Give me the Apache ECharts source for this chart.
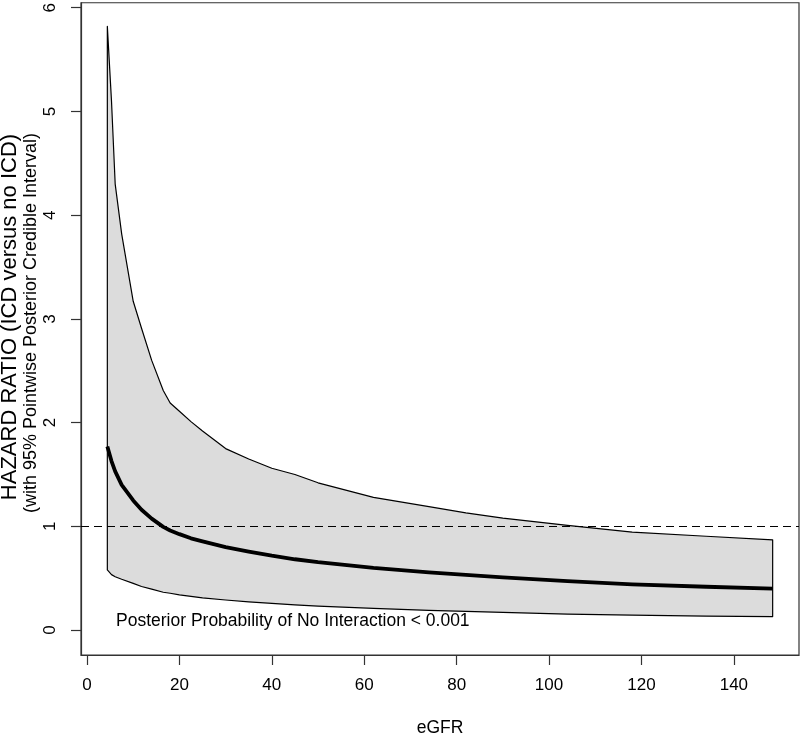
<!DOCTYPE html>
<html>
<head>
<meta charset="utf-8">
<script src="https://cdn.jsdelivr.net/npm/echarts@6/dist/echarts.min.js"></script>
<style>
html,body{margin:0;padding:0;background:#fff;}
#chart{width:800px;height:736px;}
</style>
</head>
<body>
<div id="chart"></div>
<script>
// eGFR positions where the curves were read
const eGFR  = [4.4, 5.3, 6.1, 7.5, 10, 11.8, 14, 16.5, 18, 20, 22.5, 25, 30, 35, 40, 45, 50, 62, 74, 82, 90, 104, 118, 134, 148.4];
// upper 95% pointwise credible bound
const upper = [5.82, 5.10, 4.30, 3.82, 3.17, 2.91, 2.60, 2.31, 2.19, 2.11, 2.01, 1.92, 1.75, 1.65, 1.56, 1.50, 1.42, 1.28, 1.19, 1.13, 1.08, 1.01, 0.945, 0.905, 0.87];
// posterior mean hazard ratio
const mean  = [1.77, 1.63, 1.53, 1.40, 1.25, 1.16, 1.075, 0.995, 0.96, 0.925, 0.885, 0.855, 0.80, 0.757, 0.717, 0.683, 0.655, 0.60, 0.557, 0.532, 0.508, 0.472, 0.441, 0.418, 0.40];
// lower 95% pointwise credible bound
const lower = [0.58, 0.535, 0.515, 0.49, 0.45, 0.42, 0.395, 0.365, 0.355, 0.34, 0.325, 0.31, 0.29, 0.272, 0.258, 0.243, 0.232, 0.21, 0.19, 0.18, 0.17, 0.155, 0.145, 0.135, 0.13];

const xTicks = [0, 20, 40, 60, 80, 100, 120, 140];
const yTicks = [0, 1, 2, 3, 4, 5, 6];
const refLine = 1;

const FONT = "'Liberation Sans', Arial, Helvetica, sans-serif";
const chart = echarts.init(document.getElementById('chart'), null, {renderer: 'canvas'});

const option = {
  animation: false,
  backgroundColor: '#ffffff',
  grid: {
    left: 81, right: 1, top: 1, bottom: 81,
    show: true, borderColor: '#333', borderWidth: 1.2, backgroundColor: 'transparent'
  },
  xAxis: {
    type: 'value', min: -1.3, max: 154.1,
    splitLine: {show: false},
    axisLine: {show: true, onZero: false, lineStyle: {color: '#333', width: 1.2}},
    axisTick: {show: true, length: 10, customValues: xTicks, lineStyle: {color: '#333', width: 1.2}},
    axisLabel: {customValues: xTicks, margin: 22, color: '#000', fontSize: 17, fontFamily: FONT}
  },
  yAxis: {
    type: 'value', min: -0.24, max: 6.048,
    splitLine: {show: false},
    axisLine: {show: true, onZero: false, lineStyle: {color: '#333', width: 1.2}},
    axisTick: {show: true, length: 10, customValues: yTicks, lineStyle: {color: '#333', width: 1.2}},
    axisLabel: {customValues: yTicks, rotate: 90, margin: 22, color: '#000', fontSize: 17, fontFamily: FONT}
  },
  series: [
    {
      type: 'custom',
      coordinateSystem: 'cartesian2d',
      clip: true,
      silent: true,
      data: [[eGFR[0], upper[0]]],
      encode: {x: 0, y: 1},
      renderItem: function (params, api) {
        const pts = [];
        for (let i = 0; i < eGFR.length; i++) pts.push(api.coord([eGFR[i], upper[i]]));
        for (let i = eGFR.length - 1; i >= 0; i--) pts.push(api.coord([eGFR[i], lower[i]]));
        return {
          type: 'polygon',
          shape: {points: pts},
          style: {fill: '#dcdcdc', stroke: '#000', lineWidth: 1.2, lineJoin: 'round'}
        };
      },
      z: 1
    },
    {
      type: 'line',
      data: eGFR.map((x, i) => [x, mean[i]]),
      symbol: 'none',
      smooth: false,
      lineStyle: {color: '#000', width: 3.8, join: 'round', cap: 'butt'},
      silent: true,
      z: 3,
      markLine: {
        silent: true,
        symbol: ['none', 'none'],
        label: {show: false},
        lineStyle: {color: '#000', width: 1.1, type: [8, 5]},
        data: [{yAxis: refLine}]
      }
    }
  ],
  graphic: [
    {
      type: 'text', left: 116, top: 612,
      style: {text: 'Posterior Probability of No Interaction < 0.001', fill: '#000', font: '17.5px ' + FONT}
    },
    {
      type: 'text', x: 440, y: 728,
      style: {text: 'eGFR', fill: '#000', font: '17.5px ' + FONT, textAlign: 'center', textVerticalAlign: 'middle'}
    },
    {
      type: 'text', x: 10, y: 317, rotation: Math.PI / 2,
      style: {text: 'HAZARD RATIO (ICD versus no ICD)', fill: '#000', font: '22px ' + FONT, textAlign: 'center', textVerticalAlign: 'middle'}
    },
    {
      type: 'text', x: 31, y: 323, rotation: Math.PI / 2,
      style: {text: '(with 95% Pointwise Posterior Credible Interval)', fill: '#000', font: '18px ' + FONT, textAlign: 'center', textVerticalAlign: 'middle'}
    }
  ]
};
chart.setOption(option);
</script>
</body>
</html>
